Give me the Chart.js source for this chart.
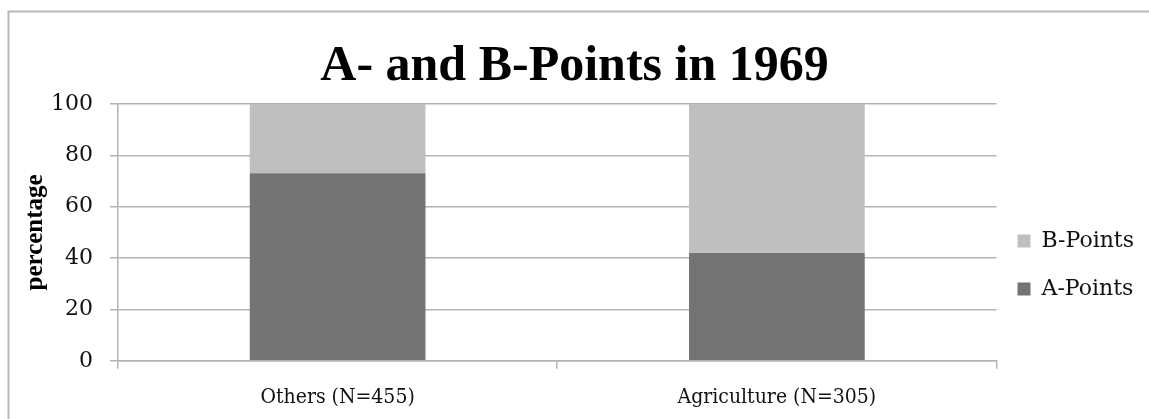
<!DOCTYPE html>
<html lang="en">

<head>
    <meta charset="UTF-8">
    <title>A- and B-Points in 1969</title>
    <script src="https://cdn.jsdelivr.net/npm/chart.js"></script>
    <style>
        body {
            margin: 0;
            background: #fff;
            overflow: hidden;
        }

        #wrap {
            width: 1149px;
            height: 419px;
            position: relative;
            overflow: hidden;
        }
    </style>
</head>

<body>
    <div id="wrap">
        <canvas id="pointsChart" width="1149" height="426"></canvas>
    </div>

    <script>
        const categories = ['Others (N=455)', 'Agriculture (N=305)'];
        const aPoints = [73, 42];
        const bPoints = [27, 58];
        const yTicks = [0, 20, 40, 60, 80, 100];

        const gridColor = '#b3b3b3';

        // grey frame round the chart, like the original screenshot
        const framePlugin = {
            id: 'frame',
            beforeDraw(chart) {
                const ctx = chart.ctx;
                ctx.save();
                ctx.strokeStyle = '#b8b8b8';
                ctx.lineWidth = 2;
                ctx.beginPath();
                ctx.moveTo(8.5, chart.height + 5);
                ctx.lineTo(8.5, 11.5);
                ctx.lineTo(chart.width + 5, 11.5);
                ctx.stroke();
                ctx.restore();
            }
        };

        // legend sits lower and a bit further left than chart.js centres it
        const legendNudge = {
            id: 'legendNudge',
            afterLayout(chart) {
                const lg = chart.legend;
                if (!lg) return;
                lg.top += 52; lg.bottom += 52;
                lg.left -= 5; lg.right -= 5;
            }
        };

        new Chart(document.getElementById('pointsChart').getContext('2d'), {
            type: 'bar',
            data: {
                labels: categories,
                datasets: [
                    { label: 'A-Points', data: aPoints, backgroundColor: '#747474' },
                    { label: 'B-Points', data: bPoints, backgroundColor: '#bfbfbf' }
                ]
            },
            options: {
                responsive: false,
                animation: false,
                layout: { padding: { left: 0, right: 0, top: 0, bottom: 0 } },
                datasets: { bar: { categoryPercentage: 0.8, barPercentage: 0.5 } },
                plugins: {
                    title: {
                        display: true,
                        text: 'A- and B-Points in 1969',
                        color: '#000',
                        font: { family: 'Liberation Serif', size: 50, weight: 'bold' },
                        padding: { top: 37, bottom: 7 }
                    },
                    legend: {
                        position: 'right',
                        reverse: true,
                        labels: {
                            boxWidth: 13,
                            boxHeight: 13,
                            padding: 26,
                            color: '#111',
                            font: { family: 'DejaVu Serif', size: 22 }
                        }
                    },
                    tooltip: { enabled: false }
                },
                scales: {
                    x: {
                        stacked: true,
                        grid: { offset: true, drawOnChartArea: false, color: gridColor, lineWidth: 1.5, tickLength: 8 },
                        border: { color: gridColor, width: 1.5 },
                        ticks: { color: '#111', padding: 16, font: { family: "'DejaVu Serif Condensed', 'Liberation Serif'", size: 21 } }
                    },
                    y: {
                        stacked: true,
                        min: 0,
                        max: 100,
                        afterBuildTicks(scale) {
                            scale.ticks = yTicks.map(v => ({ value: v }));
                        },
                        grid: { color: gridColor, lineWidth: 1.5, tickLength: 8 },
                        border: { color: gridColor, width: 1.5 },
                        ticks: { color: '#111', padding: 17, font: { family: 'DejaVu Serif', size: 22 } },
                        title: {
                            display: true,
                            text: 'percentage',
                            color: '#000',
                            padding: { top: 21, bottom: -17 },
                            font: { family: 'Liberation Serif', size: 25, weight: 'bold' }
                        }
                    }
                }
            },
            plugins: [framePlugin, legendNudge]
        });
    </script>
</body>

</html>
